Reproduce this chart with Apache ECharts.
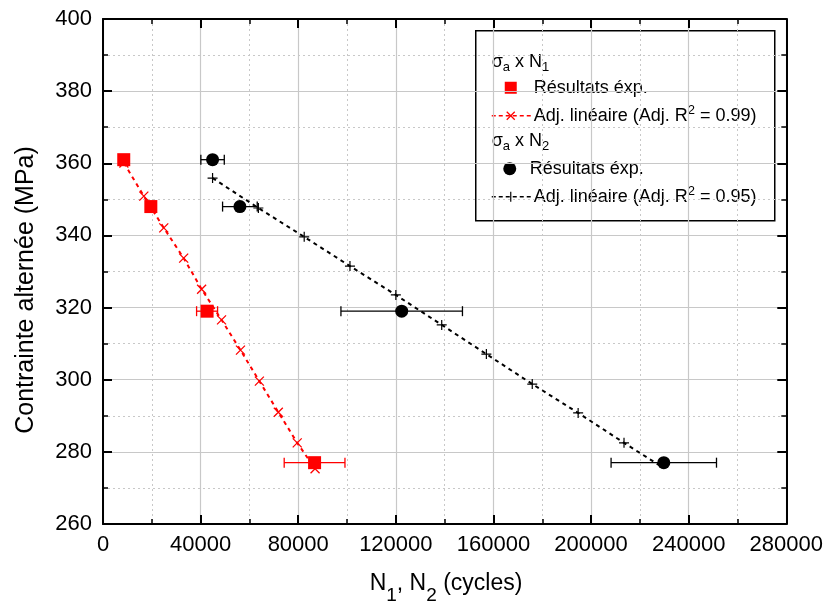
<!DOCTYPE html>
<html><head><meta charset="utf-8">
<script src="https://cdn.jsdelivr.net/npm/echarts@6/dist/echarts.min.js"></script>
<style>html,body{margin:0;padding:0;background:#fff}#c{width:826px;height:610px}</style>
</head><body><div id="c"></div><script>
// Experimental results
const stressExp = [361, 348, 319, 277];
const n1Exp = [8500, 19600, 42650, 86700];
const n1ExpErr = [0, 0, 4300, 12450];
const n2Exp = [44900, 56100, 122400, 229800];
const n2ExpErr = [4800, 7100, 24900, 21600];
// Linear fits
const n1FitX = [8570, 16730, 24900, 33060, 40410, 48570, 56330, 64080, 71840, 79590, 86900];
const n1FitY = [360.1, 350.9, 342.1, 333.7, 325.1, 316.6, 308.2, 299.6, 291.0, 282.5, 275.3];
const n2FitX = [44900, 63670, 82450, 101200, 120000, 138800, 157100, 175900, 194700, 213500, 229800];
const n2FitY = [355.9, 347.6, 339.6, 331.5, 323.5, 315.2, 307.1, 298.8, 290.8, 282.5, 275.5];
const n2FitMarker = [1, 1, 1, 1, 1, 1, 1, 1, 1, 1, 0];
// Axes
const xMin = 0, xMax = 280000, xStep = 40000;
const yMin = 260, yMax = 400, yStep = 20;
const xTitle = '{n|N}{s|1}{n|, N}{s|2}{n| (cycles)}';
const yTitle = 'Contrainte alternée (MPa)';

const FONT = 'Liberation Sans, Arial, sans-serif';
const RED = '#ff0000';

function errRender(color) {
  return function (params, api) {
    const x = api.value(0), y = api.value(1), e = api.value(2);
    if (!e) return null;
    const p1 = api.coord([x - e, y]);
    const p2 = api.coord([x + e, y]);
    const h = 5;
    const st = { stroke: color, lineWidth: 1.3 };
    return {
      type: 'group',
      children: [
        { type: 'line', shape: { x1: p1[0], y1: p1[1], x2: p2[0], y2: p2[1] }, style: st },
        { type: 'line', shape: { x1: p1[0], y1: p1[1] - h, x2: p1[0], y2: p1[1] + h }, style: st },
        { type: 'line', shape: { x1: p2[0], y1: p2[1] - h, x2: p2[0], y2: p2[1] + h }, style: st }
      ]
    };
  };
}

const axisCommon = {
  type: 'value',
  axisLine: { show: true, onZero: false, lineStyle: { color: '#000', width: 2 } },
  axisTick: { show: true, inside: true, length: 9, lineStyle: { color: '#000', width: 2 } },
  minorTick: { show: true, splitNumber: 2, length: 5, lineStyle: { color: '#000', width: 1.5 } }
};

const XSYM = 'path://M0,0L10,10M10,0L0,10';
const PSYM = 'path://M5,0L5,10M0,5L10,5';

function legendText(t) {
  return {
    text: t, fill: '#000', verticalAlign: 'middle', align: 'left',
    rich: {
      a: { fontSize: 18, fontFamily: FONT, fill: '#000', lineHeight: 24 },
      b: { fontSize: 13, fontFamily: FONT, fill: '#000', lineHeight: 13, verticalAlign: 'bottom' },
      p: { fontSize: 13, fontFamily: FONT, fill: '#000', lineHeight: 13, verticalAlign: 'top' }
    }
  };
}

const chart = echarts.init(document.getElementById('c'), null, { renderer: 'canvas' });
const option = {
  backgroundColor: '#fff',
  animation: false,
  textStyle: { fontFamily: FONT },
  grid: { left: 103, right: 37, top: 19, bottom: 86 },
  xAxis: [
    Object.assign({}, axisCommon, {
      position: 'bottom', min: xMin, max: xMax, interval: xStep,
      splitLine: { show: true, lineStyle: { color: '#c8c8c8', width: 1.2 } },
      minorSplitLine: { show: true, lineStyle: { color: '#c8c8c8', width: 1, type: [2, 3] } },
      axisLabel: { fontSize: 22, color: '#000', margin: 10, fontFamily: FONT, formatter: v => String(v) }
    }),
    Object.assign({}, axisCommon, {
      position: 'top', min: xMin, max: xMax, interval: xStep,
      axisLabel: { show: false }, splitLine: { show: false }
    })
  ],
  yAxis: [
    Object.assign({}, axisCommon, {
      position: 'left', min: yMin, max: yMax, interval: yStep,
      splitLine: { show: true, lineStyle: { color: '#c8c8c8', width: 1.2 } },
      minorSplitLine: { show: true, lineStyle: { color: '#c8c8c8', width: 1, type: [2, 3] } },
      axisLabel: { fontSize: 22, color: '#000', margin: 11, fontFamily: FONT }
    }),
    Object.assign({}, axisCommon, {
      position: 'right', min: yMin, max: yMax, interval: yStep,
      axisLabel: { show: false }, splitLine: { show: false }
    })
  ],
  series: [
    {
      type: 'line', name: 'fit1', xAxisIndex: 0, yAxisIndex: 0, z: 3,
      data: n1FitX.map((x, i) => [x, n1FitY[i]]),
      symbol: XSYM, symbolSize: 9, showAllSymbol: true,
      lineStyle: { color: RED, width: 2, type: [4, 4] },
      itemStyle: { color: 'rgba(0,0,0,0)', borderColor: RED, borderWidth: 1.3 }
    },
    {
      type: 'line', name: 'fit2', xAxisIndex: 0, yAxisIndex: 0, z: 3,
      data: n2FitX.map((x, i) => n2FitMarker[i] ? [x, n2FitY[i]] : { value: [x, n2FitY[i]], symbol: 'none' }),
      symbol: PSYM, symbolSize: 10, showAllSymbol: true,
      lineStyle: { color: '#000', width: 2, type: [4, 4] },
      itemStyle: { color: 'rgba(0,0,0,0)', borderColor: '#000', borderWidth: 1.2 }
    },
    {
      type: 'custom', name: 'err1', z: 4,
      renderItem: errRender(RED),
      data: n1Exp.map((x, i) => [x, stressExp[i], n1ExpErr[i]])
    },
    {
      type: 'custom', name: 'err2', z: 4,
      renderItem: errRender('#000'),
      data: n2Exp.map((x, i) => [x, stressExp[i], n2ExpErr[i]])
    },
    {
      type: 'scatter', name: 'exp1', z: 5,
      symbol: 'rect', symbolSize: 13,
      itemStyle: { color: RED, opacity: 1 },
      data: n1Exp.map((x, i) => [x, stressExp[i]])
    },
    {
      type: 'scatter', name: 'exp2', z: 5,
      symbol: 'circle', symbolSize: 13,
      itemStyle: { color: '#000', opacity: 1 },
      data: n2Exp.map((x, i) => [x, stressExp[i]])
    }
  ],
  graphic: [
    {
      type: 'text', x: 26, y: 290, rotation: Math.PI / 2, z: 50,
      style: { text: yTitle, fontSize: 25, fontFamily: FONT, fill: '#000', align: 'center', verticalAlign: 'middle' }
    },
    {
      type: 'text', x: 446, y: 572, z: 50,
      style: {
        text: xTitle, align: 'center', verticalAlign: 'top',
        rich: {
          n: { fontSize: 23, fontFamily: FONT, fill: '#000', lineHeight: 26, verticalAlign: 'top' },
          s: { fontSize: 19, fontFamily: FONT, fill: '#000', lineHeight: 20, verticalAlign: 'top', padding: [14, 0, 0, 0] }
        }
      }
    },
    {
      type: 'group', left: 475, top: 30, z: 100,
      children: [
        { type: 'rect', shape: { x: 0, y: 0, width: 299, height: 190 }, style: { fill: '#fff', stroke: '#000', lineWidth: 1.5 } },
        { type: 'text', x: 16, y: 31, style: legendText('{a|σ}{b|a}{a| x N}{b|1}') },
        { type: 'rect', shape: { x: 29, y: 51, width: 12, height: 12 }, style: { fill: RED } },
        { type: 'text', x: 58, y: 57, style: legendText('{a|Résultats éxp.}') },
        { type: 'line', shape: { x1: 16, y1: 85, x2: 55, y2: 85 }, style: { stroke: RED, lineWidth: 1.5, lineDash: [4, 3] } },
        { type: 'line', shape: { x1: 31, y1: 81, x2: 39, y2: 89 }, style: { stroke: RED, lineWidth: 1.2 } },
        { type: 'line', shape: { x1: 39, y1: 81, x2: 31, y2: 89 }, style: { stroke: RED, lineWidth: 1.2 } },
        { type: 'text', x: 58, y: 85, style: legendText('{a|Adj. linéaire (Adj. R}{p|2}{a| = 0.99)}') },
        { type: 'text', x: 16, y: 110, style: legendText('{a|σ}{b|a}{a| x N}{b|2}') },
        { type: 'circle', shape: { cx: 34, cy: 138, r: 6.5 }, style: { fill: '#000' } },
        { type: 'text', x: 54, y: 138, style: legendText('{a|Résultats éxp.}') },
        { type: 'line', shape: { x1: 16, y1: 166, x2: 55, y2: 166 }, style: { stroke: '#000', lineWidth: 1.5, lineDash: [4, 3] } },
        { type: 'line', shape: { x1: 35, y1: 161, x2: 35, y2: 171 }, style: { stroke: '#000', lineWidth: 1.2 } },
        { type: 'text', x: 58, y: 166, style: legendText('{a|Adj. linéaire (Adj. R}{p|2}{a| = 0.95)}') }
      ]
    }
  ]
};

chart.setOption(option);
</script></body></html>
